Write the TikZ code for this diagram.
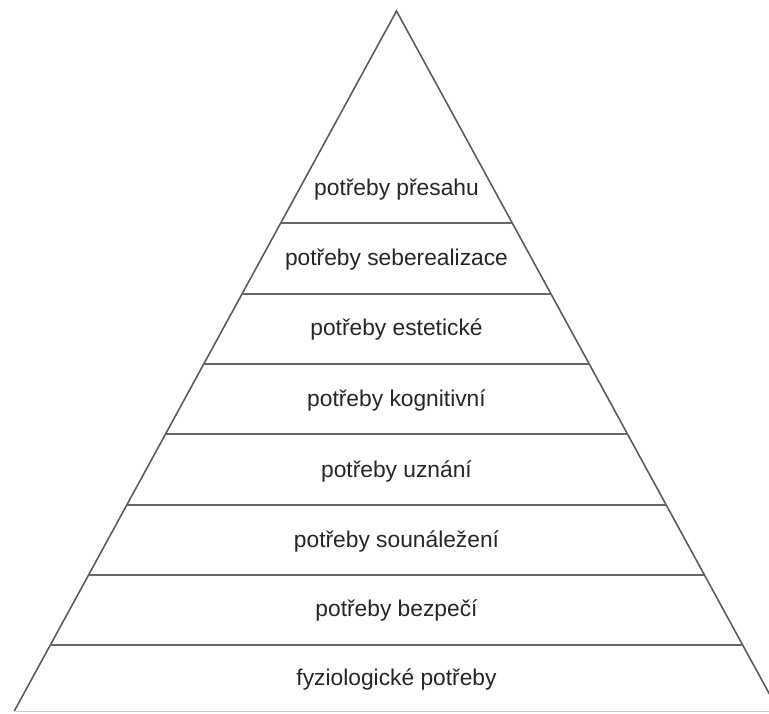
\documentclass[tikz,border=0pt]{standalone}
\usepackage{fontspec}
\setmainfont{Liberation Sans}
\usepackage{tikz}
\usetikzlibrary{calc}
\usetikzlibrary{positioning}
\tikzstyle{level} = [rectangle, inner sep=0pt, anchor=base, text=black!85, font=\fontsize{16.2}{19}\selectfont]
\tikzstyle{side} = [-, draw=black!65, line width=1.1pt]
\tikzstyle{band} = [-, draw=black!60, line width=1.2pt]

\begin{document}
\begin{tikzpicture}[x=0.025cm, y=-0.025cm]
\useasboundingbox (0,0) rectangle (769,713);
\clip (0,0) rectangle (769,713);
% outline of the pyramid
\coordinate (T) at (396.5, 11);
\coordinate (BL) at (14.3, 711);
\coordinate (BR) at (778.7, 711);
\draw [side] (BL) -- (T) -- (BR);
\draw [-, draw=black!20, line width=0.6pt] (BL) -- (BR);
% band limits
\coordinate (L1) at (280.7, 223);
\coordinate (R1) at (512.3, 223);
\coordinate (L2) at (242.0, 294);
\coordinate (R2) at (551.0, 294);
\coordinate (L3) at (203.8, 364);
\coordinate (R3) at (589.2, 364);
\coordinate (L4) at (165.5, 434);
\coordinate (R4) at (627.5, 434);
\coordinate (L5) at (126.8, 505);
\coordinate (R5) at (666.2, 505);
\coordinate (L6) at (88.6, 575);
\coordinate (R6) at (704.4, 575);
\coordinate (L7) at (50.3, 645);
\coordinate (R7) at (742.7, 645);
\draw [band] (L1) -- (R1);
\draw [band] (L2) -- (R2);
\draw [band] (L3) -- (R3);
\draw [band] (L4) -- (R4);
\draw [band] (L5) -- (R5);
\draw [band] (L6) -- (R6);
\draw [band] (L7) -- (R7);
% levels
\node [level] (P8) at (396.5, 195) {potřeby přesahu};
\node [level] (P7) at (396.5, 265) {potřeby seberealizace};
\node [level] (P6) at (396.5, 335.5) {potřeby estetické};
\node [level] (P5) at (396.5, 406) {potřeby kognitivní};
\node [level] (P4) at (396.5, 477) {potřeby uznání};
\node [level] (P3) at (396.5, 547) {potřeby sounáležení};
\node [level] (P2) at (396.5, 616.5) {potřeby bezpečí};
\node [level] (P1) at (396.5, 685.5) {fyziologické potřeby};
\end{tikzpicture}
\end{document}
